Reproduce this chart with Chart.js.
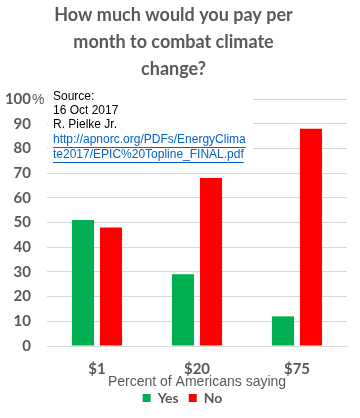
<!DOCTYPE html>
<html>

<head>
  <title>Pay to combat climate change</title>
  <script src="https://cdn.jsdelivr.net/npm/chart.js"></script>
  <style>
    body { margin: 0; background: #fff; }
  </style>
</head>

<body>
  <canvas id="payChart" width="360" height="418"></canvas>
  <script>
    const categories = ['$1', '$20', '$75'];
    const yesValues = [51, 29, 12];
    const noValues = [48, 68, 88];
    const sourceLines = ['Source:', '16 Oct 2017', 'R. Pielke Jr.'];
    const linkLines = ['http://apnorc.org/PDFs/EnergyClima', 'te2017/EPIC%20Topline_FINAL.pdf'];

    const gray = '#595959';

    // source note box + the "%" next to 100
    const notePlugin = {
      id: 'note',
      afterLayout(chart) {
        // pull the legend up a bit and let the axis title sit lower
        chart.legend.top -= 3;
        chart.legend.bottom -= 3;
        chart.legend.left += 9;
        chart.legend.right += 9;
        chart.scales.x.bottom += 6.6;
      },
      afterDatasetsDraw(chart) {
        const c = chart.ctx;
        const area = chart.chartArea;
        const y100 = chart.scales.y.getPixelForValue(100);
        c.save();
        c.fillStyle = '#fff';
        c.fillRect(area.left + 1, y100 - 10, 205, 70);
        c.font = '12px "Liberation Sans", Arial';
        c.textBaseline = 'middle';
        c.fillStyle = '#000';
        sourceLines.forEach((t, i) => c.fillText(t, area.left + 6, y100 - 2 + i * 14));
        c.fillStyle = '#0563C1';
        c.strokeStyle = '#0563C1';
        c.lineWidth = 1;
        linkLines.forEach((t, i) => {
          const ty = y100 + 41 + i * 15;
          c.fillText(t, area.left + 6, ty);
          const w = c.measureText(t).width;
          c.beginPath();
          c.moveTo(area.left + 6, ty + 7.5);
          c.lineTo(area.left + 6 + w, ty + 7.5);
          c.stroke();
        });
        c.fillStyle = gray;
        c.font = '14px "Liberation Sans", Arial';
        c.fillText('%', area.left - 15, y100 + 1);
        c.restore();
      }
    };

    const ctx = document.getElementById('payChart').getContext('2d');
    const chart = new Chart(ctx, {
      type: 'bar',
      data: {
        labels: categories,
        datasets: [{
          label: 'Yes',
          backgroundColor: '#00B050',
          data: yesValues
        }, {
          label: 'No',
          backgroundColor: '#FF0000',
          data: noValues
        }]
      },
      options: {
        responsive: false,
        animation: false,
        categoryPercentage: 0.56,
        barPercentage: 0.79,
        layout: { padding: { left: 0, right: 13, top: 0, bottom: 0 } },
        plugins: {
          title: {
            display: true,
            text: ['How much would you pay per', 'month to combat climate', 'change?'],
            color: gray,
            font: { family: 'Lato', size: 18, weight: 'bold', lineHeight: 1.5 },
            padding: { top: 2, bottom: 16 }
          },
          legend: {
            position: 'bottom',
            labels: {
              color: gray,
              font: { family: 'Lato', size: 14, weight: 'bold' },
              boxWidth: 8,
              boxHeight: 8,
              padding: 10
            }
          },
          tooltip: { enabled: false }
        },
        scales: {
          x: {
            grid: { display: false },
            border: { color: '#d9d9d9' },
            ticks: {
              color: gray,
              font: { family: 'Lato', size: 15, weight: 'bold' },
              padding: 6
            },
            title: {
              display: true,
              text: 'Percent of Americans saying',
              color: gray,
              font: { family: 'Liberation Sans', size: 14 },
              padding: { top: 0, bottom: 0 }
            },
            afterFit(scale) { scale.height = 38; }
          },
          y: {
            min: 0,
            max: 100,
            ticks: {
              stepSize: 10,
              color: gray,
              font: { family: 'Lato', size: 15, weight: 'bold' },
              padding: 16
            },
            grid: { color: '#d9d9d9', drawTicks: false },
            border: { display: false },
            afterFit(scale) { scale.width = 47; }
          }
        }
      },
      plugins: [notePlugin]
    });
  </script>
</body>

</html>
